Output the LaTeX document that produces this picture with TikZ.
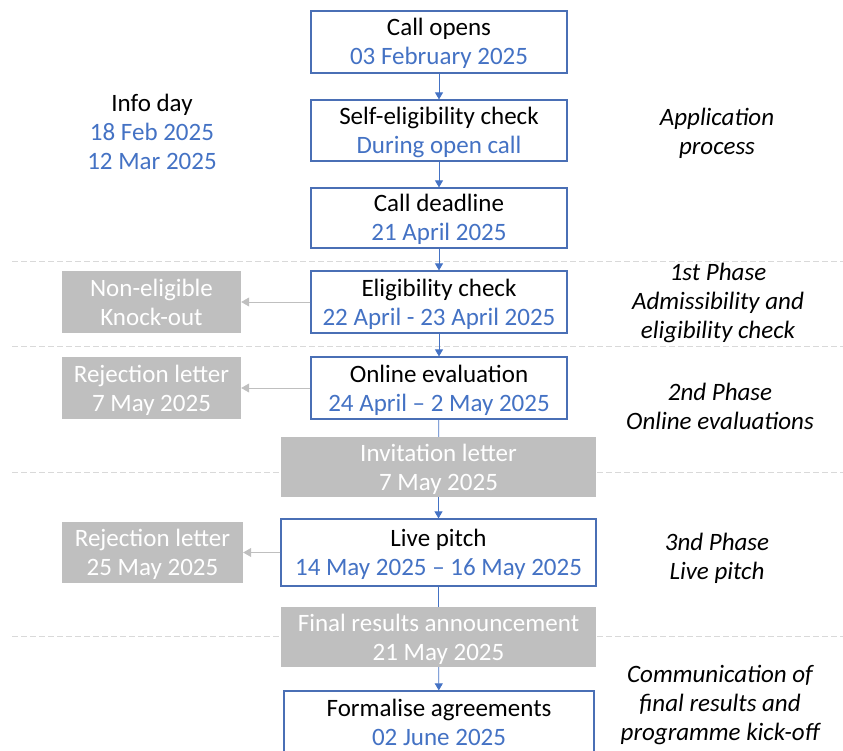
\documentclass[tikz,border=0pt]{standalone}
\usepackage{fontspec}
\setmainfont{Carlito}
\usetikzlibrary{arrows.meta}

\definecolor{ptblue}{HTML}{4472C4}
\definecolor{ptframe}{HTML}{4A6FB5}
\definecolor{ptgrey}{HTML}{BFBFBF}
\definecolor{ptdash}{HTML}{D9D9D9}

\tikzset{
  stagebox/.style={draw=ptframe, line width=1.2pt, fill=white, rectangle, inner sep=0pt, align=center,
    font=\fontsize{25}{29}\selectfont, text height=53pt, text depth=7pt},
  outbox/.style={fill=ptgrey, rectangle, inner sep=0pt, align=center, text=white,
    font=\fontsize{25}{29}\selectfont, text height=53pt, text depth=7pt},
  phaselabel/.style={align=center, font=\fontsize{25}{29}\selectfont\itshape},
  flow/.style={draw=ptblue, line width=0.8pt, -{Triangle[width=8pt,length=7pt]}},
  flowline/.style={draw=ptblue, line width=0.8pt},
  knockout/.style={draw=ptgrey, line width=0.8pt, -{Triangle[width=9pt,length=8pt]}},
  phaseline/.style={draw=ptdash, line width=0.8pt, dash pattern=on 6pt off 3pt}
}

\begin{document}
\begin{tikzpicture}[x=1pt, y=-1pt]
        \useasboundingbox (0,0) rectangle (843,751);
        \clip (0,0) rectangle (843,751);

        % Draw the phase separators
        \draw[phaseline] (12,261) -- (843,261);
        \draw[phaseline] (12,346) -- (843,346);
        \draw[phaseline] (12,472) -- (843,472);
        \draw[phaseline] (12,636) -- (843,636);

        % Draw the main stages
        \node[stagebox, minimum width=256, minimum height=62] (open) at (439,42) {Call opens\\\textcolor{ptblue}{03 February 2025}};
        \node[stagebox, minimum width=256, minimum height=61] (selfcheck) at (439,130.5) {Self-eligibility check\\\textcolor{ptblue}{During open call}};
        \node[stagebox, minimum width=256, minimum height=60] (deadline) at (439,218) {Call deadline\\\textcolor{ptblue}{21 April 2025}};
        \node[stagebox, minimum width=256, minimum height=62] (elig) at (439,302) {Eligibility check\\\textcolor{ptblue}{22 April - 23 April 2025}};
        \node[stagebox, minimum width=256, minimum height=62] (online) at (439,388) {Online evaluation\\\textcolor{ptblue}{24 April -- 2 May 2025}};
        \node[outbox, minimum width=315, minimum height=58] (invite) at (438.5,467) {Invitation letter\\7 May 2025};
        \node[stagebox, minimum width=315, minimum height=67] (pitch) at (438.5,552.5) {Live pitch\\\textcolor{ptblue}{14 May 2025 -- 16 May 2025}};
        \node[outbox, minimum width=315, minimum height=55] (final) at (438.5,637) {Final results announcement\\21 May 2025};
        \node[stagebox, minimum width=310, minimum height=62] (formal) at (439,722) {Formalise agreements\\\textcolor{ptblue}{02 June 2025}};

        % Draw the knock-out boxes
        \node[outbox, minimum width=179, minimum height=62] (noelig) at (151.5,302) {Non-eligible\\Knock-out};
        \node[outbox, minimum width=179, minimum height=62] (reject1) at (151.5,388) {Rejection letter\\7 May 2025};
        \node[outbox, minimum width=181, minimum height=61] (reject2) at (152.5,552.5) {Rejection letter\\25 May 2025};

        % Draw the arrows
        \draw[flow] (open) -- (selfcheck);
        \draw[flow] (selfcheck) -- (deadline);
        \draw[flow] (deadline) -- (elig);
        \draw[flow] (elig) -- (online);
        \draw[flowline] (online) -- (invite);
        \draw[flow] (invite) -- (pitch);
        \draw[flowline] (pitch) -- (final);
        \draw[flow] (final) -- (formal);
        \draw[knockout] (elig) -- (noelig);
        \draw[knockout] (online) -- (reject1);
        \draw[knockout] (pitch) -- (reject2);

        % Add the info day dates
        \node[align=center, font=\fontsize{25}{29}\selectfont] (infoday) at (152,132) {Info day\\\textcolor{ptblue}{18 Feb 2025}\\\textcolor{ptblue}{12 Mar 2025}};

        % Add the phase labels on the right
        \node[phaselabel] (appl) at (717,133) {Application\\process};
        \node[phaselabel] (phase1) at (718,303) {1st Phase\\Admissibility and\\eligibility check};
        \node[phaselabel] (phase2) at (720,406) {2nd Phase\\Online evaluations};
        \node[phaselabel] (phase3) at (717,558.5) {3nd Phase\\Live pitch};
        \node[phaselabel] (comm) at (720,705) {Communication of\\final results and\\programme kick-off};

    \end{tikzpicture}
\end{document}
